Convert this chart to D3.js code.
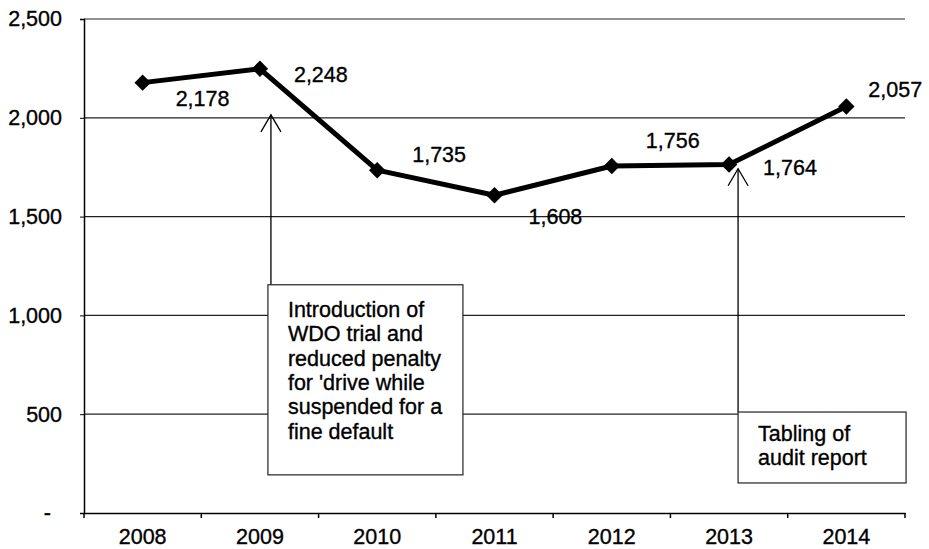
<!DOCTYPE html>
<html>
<head>
<meta charset="utf-8">
<script src="https://cdn.jsdelivr.net/npm/d3@7"></script>
<style>
  body { margin: 0; background: #fff; }
  svg text { font-family: "Liberation Sans", Arial, sans-serif; fill: #000; stroke: #000; stroke-width: 0.35px; }
</style>
</head>
<body>
<div id="chart"></div>
<script>
// Yearly counts with two annotated events

var years = ["2008", "2009", "2010", "2011", "2012", "2013", "2014"];
var counts = [2178, 2248, 1735, 1608, 1756, 1764, 2057];
var yTicks = [0, 500, 1000, 1500, 2000, 2500];

var noteYears = ["2009", "2013"];
var noteTipValues = [2015, 1742];
var noteLines = [
    ["Introduction of", "WDO trial and", "reduced penalty", "for 'drive while", "suspended for a", "fine default"],
    ["Tabling of", "audit report"]
];

// layout (pixels)
var svgWidth = 929;
var svgHeight = 549;
var margin = {top: 19, right: 24, bottom: 36, left: 84};
var chartWidth = 905 - margin.left;
var chartHeight = 513 - margin.top;
var fontSize = "21.5px";

// label offsets from each point [dx to left edge, dy to baseline]
var labelOffsets = [[33, 23], [34, 13], [35, -8], [34, 29], [34, -18], [34, 11], [22, -10]];
// annotation boxes: offset of tip from band centre, box top/bottom values, box width, text top
var noteLayout = [
    {dx: 11, boxTop: 1155, boxBottom: 193, boxLeft: -3, boxWidth: 195, lineGap: 24.3, firstBase: 317},
    {dx: 9, boxTop: 511, boxBottom: 152, boxLeft: 0, boxWidth: 168, lineGap: 24, firstBase: 441}
];

var svg = d3.select("#chart").append("svg")
    .attr("width", svgWidth)
    .attr("height", svgHeight);

var chartGroup = svg.append("g")
    .attr("transform", `translate(${margin.left}, ${margin.top})`);

var xScale = d3.scaleBand()
    .domain(years)
    .range([0, chartWidth]);

var yScale = d3.scaleLinear()
    .domain([0, 2500])
    .range([chartHeight, 0]);

// gridlines
chartGroup.append("g")
    .selectAll("line")
    .data(yTicks.filter(d => d > 0))
    .enter()
    .append("line")
    .attr("x1", 0)
    .attr("x2", chartWidth)
    .attr("y1", d => yScale(d))
    .attr("y2", d => yScale(d))
    .attr("stroke", "#222")
    .attr("stroke-width", 1.2);

// y axis
var yAxis = d3.axisLeft(yScale)
    .tickValues(yTicks)
    .tickSize(4)
    .tickPadding(18)
    .tickFormat(d => d === 0 ? "-" : d3.format(",")(d));

var yAxisG = chartGroup.append("g").call(yAxis);
yAxisG.select(".domain").attr("stroke", "#000").attr("stroke-width", 1.5);
yAxisG.selectAll(".tick line").attr("stroke", "#000");
yAxisG.selectAll(".tick text")
    .attr("font-size", fontSize)
    .attr("font-family", "Liberation Sans, Arial, sans-serif")
    .attr("dx", d => d === 0 ? -11 : 0);

// x axis
var xAxis = d3.axisBottom(xScale).tickSize(0).tickPadding(16);
var xAxisG = chartGroup.append("g")
    .attr("transform", `translate(0, ${chartHeight})`)
    .call(xAxis);
xAxisG.select(".domain").attr("stroke", "#000").attr("stroke-width", 1.5);
xAxisG.selectAll(".tick text")
    .attr("font-size", fontSize)
    .attr("font-family", "Liberation Sans, Arial, sans-serif");

// tick marks on category boundaries
xAxisG.selectAll(".bound")
    .data(years.concat(["end"]))
    .enter()
    .append("line")
    .attr("class", "bound")
    .attr("x1", (d, i) => i * xScale.step())
    .attr("x2", (d, i) => i * xScale.step())
    .attr("y1", 0)
    .attr("y2", 5)
    .attr("stroke", "#000")
    .attr("stroke-width", 1.5);

var cx = d => xScale(d) + xScale.bandwidth() / 2;

// annotations
noteYears.forEach(function(year, i) {
    var lay = noteLayout[i];
    var tipX = cx(year) + lay.dx;
    var tipY = yScale(noteTipValues[i]);
    var top = yScale(lay.boxTop);
    var bottom = yScale(lay.boxBottom);
    var g = chartGroup.append("g");

    g.append("line")
        .attr("x1", tipX).attr("x2", tipX)
        .attr("y1", tipY).attr("y2", top)
        .attr("stroke", "#000").attr("stroke-width", 1.3);

    g.append("path")
        .attr("d", `M${tipX - 10},${tipY + 17} L${tipX},${tipY} L${tipX + 10},${tipY + 17}`)
        .attr("fill", "none").attr("stroke", "#000").attr("stroke-width", 1.3);

    g.append("rect")
        .attr("x", tipX + lay.boxLeft)
        .attr("y", top)
        .attr("width", lay.boxWidth)
        .attr("height", bottom - top)
        .attr("fill", "#fff")
        .attr("stroke", "#222")
        .attr("stroke-width", 1.2);

    g.selectAll("text")
        .data(noteLines[i])
        .enter()
        .append("text")
        .attr("x", tipX + lay.boxLeft + 20)
        .attr("y", (d, j) => lay.firstBase - margin.top + j * lay.lineGap)
        .attr("font-size", fontSize)
        .text(d => d);
});

// series line
var line = d3.line()
    .x((d, i) => cx(years[i]))
    .y(d => yScale(d));

chartGroup.append("path")
    .datum(counts)
    .attr("d", line)
    .attr("fill", "none")
    .attr("stroke", "#000")
    .attr("stroke-width", 5)
    .attr("stroke-linejoin", "round");

// diamond markers
chartGroup.selectAll(".marker")
    .data(counts)
    .enter()
    .append("path")
    .attr("class", "marker")
    .attr("d", d3.symbol(d3.symbolSquare, 135))
    .attr("transform", (d, i) => `translate(${cx(years[i])}, ${yScale(d)}) rotate(45)`)
    .attr("fill", "#000");

// value labels
chartGroup.selectAll(".value")
    .data(counts)
    .enter()
    .append("text")
    .attr("class", "value")
    .attr("x", (d, i) => cx(years[i]) + labelOffsets[i][0])
    .attr("y", (d, i) => yScale(d) + labelOffsets[i][1])
    .attr("font-size", fontSize)
    .text(d => d3.format(",")(d));
</script>
</body>
</html>
